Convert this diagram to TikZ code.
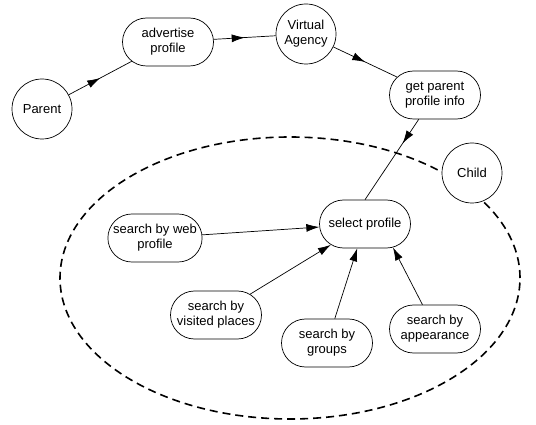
\documentclass[tikz,border=0pt]{standalone}
\usepackage{fontspec}
\setmainfont{Liberation Sans}
\usetikzlibrary{shapes.misc,arrows.meta,decorations.markings}
\begin{document}
\begin{tikzpicture}[x=1pt, y=-1pt, line width=0.7pt, font=\fontsize{13}{15}\selectfont,
  main/.style = {draw, circle, fill=white, minimum size=60pt, inner sep=0pt, align=center},
  task/.style = {draw, rounded rectangle, fill=white, minimum width=93pt, minimum height=48pt, inner sep=1pt, align=center},
  tip/.style = {-{Latex[length=13pt,width=8pt]}},
  mid/.style = {decoration={markings, mark=at position #1 with {\arrow{Latex[length=13pt,width=8pt]}}}, postaction=decorate},
  mid/.default=0.5]
\useasboundingbox (0,0) rectangle (536,425);
\draw[line width=1.6pt, dash pattern=on 8pt off 5pt] (290,278) ellipse [x radius=230pt, y radius=141pt];
\node[main] (1) at (42,109) {Parent};
\node[task] (2) at (168,42) {advertise\\profile};
\node[main] (3) at (306,34) {Virtual\\Agency};
\node[task] (4) at (435,95) {get parent\\profile info};
\node[main] (5) at (472,173) {Child};
\node[task] (6) at (365,224) {select profile};
\node[task] (7) at (155,238) {search by web\\profile};
\node[task] (8) at (216,315) {search by\\visited places};
\node[task] (9) at (327,343) {search by\\groups};
\node[task] (10) at (435,329) {search by\\appearance};
\draw[mid] (1) -- (2);
\draw[mid] (2) -- (3);
\draw[mid] (3) -- (4);
\draw[mid=0.3] (4) -- (6.north);
\draw[tip] (7) -- (6);
\draw[tip] (8) -- (6);
\draw[tip] (9) -- (6);
\draw[tip] (10) -- (6.-40);
\end{tikzpicture}
\end{document}
